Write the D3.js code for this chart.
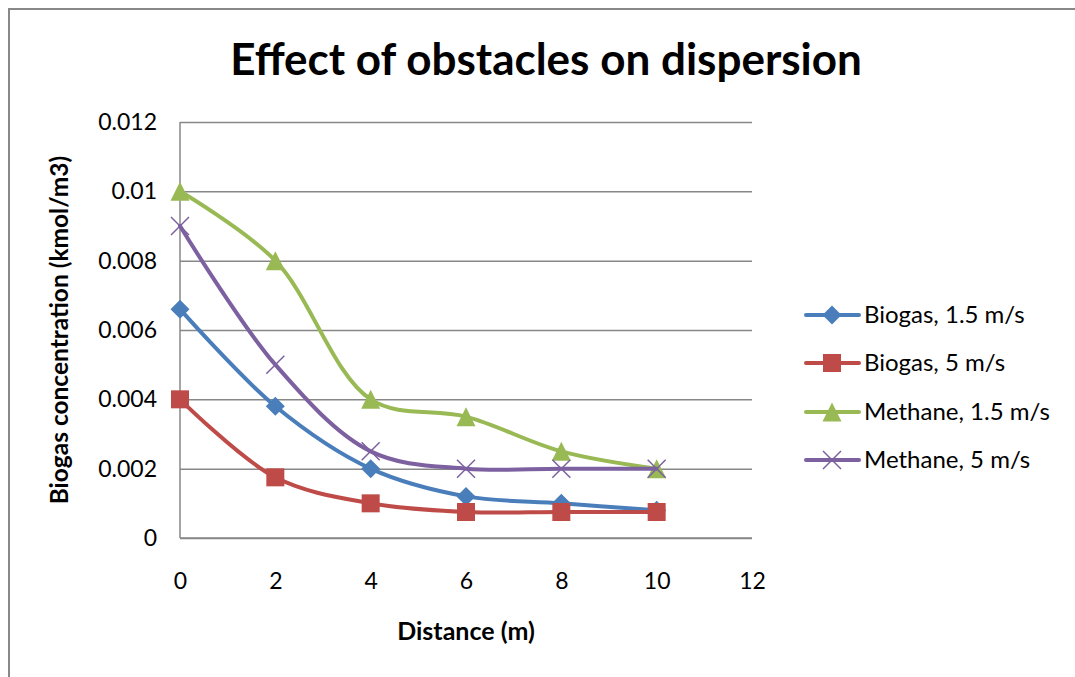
<!DOCTYPE html>
<html>
<head>
<meta charset="utf-8">
<script src="https://cdn.jsdelivr.net/npm/d3@7"></script>
<style>
  html, body { margin: 0; padding: 0; background: #fff; }
  svg { display: block; font-family: Lato, "Open Sans", sans-serif; }
</style>
</head>
<body>
<svg id="chart" width="1075" height="677"></svg>
<script>
// Distance along the domain (m)
const distances = [0, 2, 4, 6, 8, 10];

// Concentration (kmol/m3) per series
const biogasSlow = [0.0066, 0.0038, 0.002, 0.0012, 0.001, 0.0008];
const biogasFast = [0.004, 0.00175, 0.001, 0.00075, 0.00075, 0.00075];
const methaneSlow = [0.01, 0.008, 0.004, 0.0035, 0.0025, 0.002];
const methaneFast = [0.009, 0.005, 0.0025, 0.002, 0.002, 0.002];

const seriesNames = ["Biogas, 1.5 m/s", "Biogas, 5 m/s", "Methane, 1.5 m/s", "Methane, 5 m/s"];
const xTicks = [0, 2, 4, 6, 8, 10, 12];
const yTicks = [0, 0.002, 0.004, 0.006, 0.008, 0.01, 0.012];

const series = [
  { name: seriesNames[0], values: biogasSlow, color: "#4A7EBB", marker: "diamond" },
  { name: seriesNames[1], values: biogasFast, color: "#BE4B48", marker: "square" },
  { name: seriesNames[2], values: methaneSlow, color: "#98B954", marker: "triangle" },
  { name: seriesNames[3], values: methaneFast, color: "#7D60A0", marker: "cross" }
];

const svg = d3.select("#chart");
const plot = { left: 180, right: 752, top: 122, bottom: 538 };

const x = d3.scaleLinear().domain([0, 12]).range([plot.left, plot.right]);
const y = d3.scaleLinear().domain([0, 0.012]).range([plot.bottom, plot.top]);

const FONT = "Lato, 'Open Sans', sans-serif";

// Outer chart frame
svg.append("rect")
  .attr("x", 9).attr("y", 9).attr("width", 1100).attr("height", 700)
  .attr("fill", "none").attr("stroke", "#888").attr("stroke-width", 2);

// Title
svg.append("text")
  .attr("x", 546).attr("y", 75)
  .attr("text-anchor", "middle")
  .attr("font-size", 44).attr("font-weight", "bold")
  .text("Effect of obstacles on dispersion");

// Horizontal gridlines + y axis labels
const yAxis = d3.axisLeft(y).tickValues(yTicks)
  .tickSize(-(plot.right - plot.left))
  .tickPadding(23)
  .tickFormat(d => d === 0 ? "0" : d3.format("~g")(+d.toFixed(4)));
const gy = svg.append("g").attr("transform", `translate(${plot.left},0)`).call(yAxis);
gy.select(".domain").remove();
gy.selectAll(".tick line").attr("stroke", "#878787").attr("stroke-width", 1.5);
gy.selectAll(".tick text").attr("font-size", 23).attr("fill", "#000").attr("font-family", FONT);

// X axis labels
const xAxis = d3.axisBottom(x).tickValues(xTicks).tickSize(0).tickPadding(35);
const gx = svg.append("g").attr("transform", `translate(0,${plot.bottom})`).call(xAxis);
gx.select(".domain").remove();
gx.selectAll(".tick text").attr("font-size", 23).attr("fill", "#000").attr("font-family", FONT);

// Axis lines
svg.append("line")
  .attr("x1", plot.left).attr("x2", plot.left)
  .attr("y1", plot.top).attr("y2", plot.bottom)
  .attr("stroke", "#878787").attr("stroke-width", 1.5);
svg.append("line")
  .attr("x1", plot.left).attr("x2", plot.right)
  .attr("y1", plot.bottom).attr("y2", plot.bottom)
  .attr("stroke", "#878787").attr("stroke-width", 1.5);

// Axis titles
svg.append("text")
  .attr("x", x(6)).attr("y", 640)
  .attr("text-anchor", "middle")
  .attr("font-size", 25).attr("font-weight", "bold")
  .text("Distance (m)");
svg.append("text")
  .attr("transform", "translate(68,330) rotate(-90)")
  .attr("text-anchor", "middle")
  .attr("font-size", 24.5).attr("font-weight", "bold")
  .text("Biogas concentration (kmol/m3)");

// Marker drawing helper
function drawMarker(g, type, color, cx, cy) {
  if (type === "diamond") {
    const r = 9.5;
    g.append("path")
      .attr("d", `M${cx},${cy - r}L${cx + r},${cy}L${cx},${cy + r}L${cx - r},${cy}Z`)
      .attr("fill", color);
  } else if (type === "square") {
    const s = 18;
    g.append("rect")
      .attr("x", cx - s / 2).attr("y", cy - s / 2)
      .attr("width", s).attr("height", s)
      .attr("fill", color);
  } else if (type === "triangle") {
    const h = 9.5;
    g.append("path")
      .attr("d", `M${cx},${cy - h}L${cx + h},${cy + h}L${cx - h},${cy + h}Z`)
      .attr("fill", color);
  } else if (type === "cross") {
    const r = 9;
    g.append("path")
      .attr("d", `M${cx - r},${cy - r}L${cx + r},${cy + r}M${cx + r},${cy - r}L${cx - r},${cy + r}`)
      .attr("stroke", color).attr("stroke-width", 1.5).attr("fill", "none");
  }
}

// Smoothed series lines with markers
const line = d3.line()
  .x((d, i) => x(distances[i]))
  .y(d => y(d))
  .curve(d3.curveCatmullRom.alpha(0.5));

series.forEach(s => {
  const g = svg.append("g");
  g.append("path")
    .attr("d", line(s.values))
    .attr("fill", "none")
    .attr("stroke", s.color)
    .attr("stroke-width", 4)
    .attr("stroke-linejoin", "round")
    .attr("stroke-linecap", "round");
  s.values.forEach((v, i) => drawMarker(g, s.marker, s.color, x(distances[i]), y(v)));
});

// Legend
const legendRows = [315, 363, 412, 460];
series.forEach((s, i) => {
  const g = svg.append("g");
  const ly = legendRows[i];
  g.append("line")
    .attr("x1", 806).attr("x2", 859).attr("y1", ly).attr("y2", ly)
    .attr("stroke", s.color).attr("stroke-width", 4).attr("stroke-linecap", "round");
  drawMarker(g, s.marker, s.color, 832, ly);
  g.append("text")
    .attr("x", 864).attr("y", ly + 8)
    .attr("font-size", 24)
    .text(s.name);
});
</script>
</body>
</html>
